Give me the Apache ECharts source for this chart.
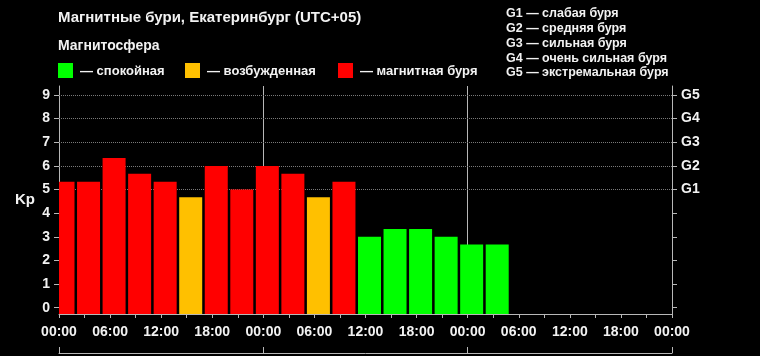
<!DOCTYPE html>
<html>
<head>
<meta charset="utf-8">
<script src="https://cdn.jsdelivr.net/npm/echarts@6/dist/echarts.min.js"></script>
<style>
html,body{margin:0;padding:0;background:#000;}
#chart{width:760px;height:356px;}
</style>
</head>
<body>
<div id="chart"></div>
<script>
// ---- data ----
const titleText = 'Магнитные бури, Екатеринбург (UTC+05)';
const subtitleText = 'Магнитосфера';
const periodStartHours = [0,3,6,9,12,15,18,21,24,27,30,33,36,39,42,45,48,51];
const kpValues = [5.33,5.33,6.33,5.67,5.33,4.67,6.00,5.00,6.00,5.67,4.67,5.33,3.00,3.33,3.33,3.00,2.67,2.67];
const statusIndex = [2,2,2,2,2,1,2,2,2,2,1,2,0,0,0,0,0,0];
const statusLabels = ['— спокойная','— возбужденная','— магнитная буря'];
const statusColors = ['#00ff00','#ffc000','#ff0000'];
const hourTickLabels = {0:'00:00',6:'06:00',12:'12:00',18:'18:00'};
const kpTicks = [0,1,2,3,4,5,6,7,8,9];
const gLevelKp = [5,6,7,8,9];
const gLevelLabels = ['G1','G2','G3','G4','G5'];
const gDescriptions = ['G1 — слабая буря','G2 — средняя буря','G3 — сильная буря','G4 — очень сильная буря','G5 — экстремальная буря'];

// ---- layout / style ----
const FONT = '"Liberation Sans", Arial, sans-serif';
const TXT = '#f2f2f2';
const AXIS = '#b8b8b8';
const yMin = -0.267, yMax = 9.38;
const barW = 23, barShift = 4;

const graphics = [];
graphics.push({type:'text', left:58, top:10, style:{text:titleText, fill:TXT, font:'bold 15px '+FONT}});
graphics.push({type:'text', left:58, top:39, style:{text:subtitleText, fill:TXT, font:'bold 14px '+FONT}});
const legendX = [58, 185, 338];
statusLabels.forEach((lab,i)=>{
  graphics.push({type:'rect', shape:{x:legendX[i], y:63, width:15, height:15}, style:{fill:statusColors[i]}});
  graphics.push({type:'text', x:legendX[i]+22, y:71, style:{text:lab, fill:TXT, font:'bold 13px '+FONT, verticalAlign:'middle'}});
});
gDescriptions.forEach((d,i)=>{
  graphics.push({type:'text', x:506, y:14+i*14.7, style:{text:d, fill:TXT, font:'bold 12.5px '+FONT, verticalAlign:'middle'}});
});

const chart = echarts.init(document.getElementById('chart'), null, {renderer:'canvas'});
chart.setOption({
  backgroundColor:'#000',
  animation:false,
  graphic: graphics,
  grid:{left:59, right:88, top:86, bottom:42, containLabel:false},
  xAxis:[{
    type:'value', min:0, max:72, interval:3, position:'bottom',
    axisLine:{show:true, onZero:false, lineStyle:{color:AXIS, width:1}},
    axisTick:{show:true, length:4, lineStyle:{color:AXIS}},
    axisLabel:{show:true, margin:11, color:TXT, fontFamily:FONT, fontWeight:'bold', fontSize:14,
      formatter:v=> (v%6===0 ? hourTickLabels[v%24] : '')},
    splitLine:{show:false}
  },{
    type:'value', min:0, max:72, interval:24, position:'bottom', offset:39,
    axisLine:{show:true, onZero:false, lineStyle:{color:AXIS, width:1}},
    axisTick:{show:true, inside:true, length:6, lineStyle:{color:AXIS}},
    axisLabel:{show:false},
    splitLine:{show:true, lineStyle:{color:AXIS, width:1, type:'solid'}}
  }],
  yAxis:[{
    type:'value', min:yMin, max:yMax, position:'left',
    name:'Kp', nameLocation:'middle', nameRotate:0, nameGap:24,
    nameTextStyle:{color:TXT, fontFamily:FONT, fontWeight:'bold', fontSize:15, align:'right'},
    axisLine:{show:true, onZero:false, lineStyle:{color:AXIS, width:1}},
    axisTick:{show:true, length:5, customValues:kpTicks, lineStyle:{color:AXIS}},
    axisLabel:{show:true, margin:9, customValues:kpTicks, color:TXT, fontFamily:FONT, fontWeight:'bold', fontSize:14},
    splitLine:{show:false}
  },{
    type:'value', min:yMin, max:yMax, position:'right',
    axisLine:{show:true, onZero:false, lineStyle:{color:AXIS, width:1}},
    axisTick:{show:true, length:5, customValues:kpTicks, lineStyle:{color:AXIS}},
    axisLabel:{show:true, margin:9, customValues:gLevelKp, color:TXT, fontFamily:FONT, fontWeight:'bold', fontSize:14,
      formatter:v=> gLevelLabels[gLevelKp.indexOf(Math.round(v))] || ''},
    splitLine:{show:false}
  }],
  series:[{
    type:'line', data:[], z:1, silent:true,
    markLine:{z:1, silent:true, symbol:['none','none'], label:{show:false},
      lineStyle:{color:'#7a7a7a', type:'dotted', width:1},
      data: gLevelKp.map(k=>({yAxis:k}))}
  },{
    type:'custom', z:2, clip:true, xAxisIndex:0, yAxisIndex:0,
    data: kpValues.map((v,i)=>[periodStartHours[i], v, statusIndex[i]]),
    renderItem:(params, api)=>{
      const x = api.value(0), v = api.value(1), s = api.value(2);
      const top = api.coord([x, v]);
      const base = api.coord([x, yMin]);
      const cx = top[0] + barShift;
      return {type:'rect', shape:{x:cx-barW/2, y:top[1], width:barW, height:base[1]-top[1]},
        style:{fill:statusColors[s]}};
    }
  }]
});
</script>
</body>
</html>
